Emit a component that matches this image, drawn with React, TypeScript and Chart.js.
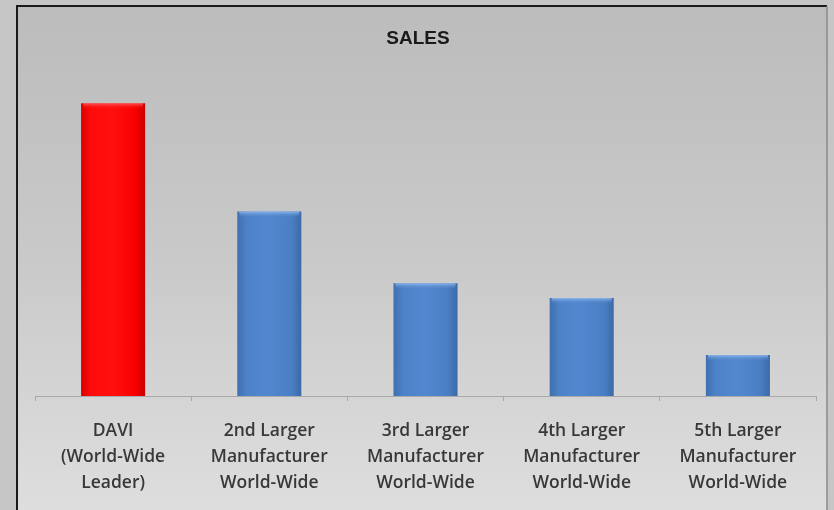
import React, { useEffect, useRef } from "react";
import { Chart, registerables } from "chart.js";

Chart.register(...registerables);

const categories: string[][] = [
  ["DAVI", "(World-Wide", "Leader)"],
  ["2nd Larger", "Manufacturer", "World-Wide"],
  ["3rd Larger", "Manufacturer", "World-Wide"],
  ["4th Larger", "Manufacturer", "World-Wide"],
  ["5th Larger", "Manufacturer", "World-Wide"],
];
const salesValues: number[] = [100, 63, 38.5, 33.5, 14];
const barColors: string[] = ["red", "blue", "blue", "blue", "blue"];
const chartTitle = "SALES";

const framePlugin = {
  id: "frame",
  beforeDraw(chart: any) {
    const { ctx, width, height } = chart;
    ctx.save();
    ctx.fillStyle = "#c6c6c6";
    ctx.fillRect(0, 0, width, height);
    const g = ctx.createLinearGradient(0, 6, 0, height);
    g.addColorStop(0, "#bcbcbc");
    g.addColorStop(0.5, "#c9c9c9");
    g.addColorStop(1, "#dedede");
    ctx.fillStyle = g;
    ctx.fillRect(17, 6, width - 17 - 7, height - 6);
    ctx.strokeStyle = "#1a1a1a";
    ctx.lineWidth = 2;
    ctx.beginPath();
    ctx.moveTo(17, height);
    ctx.lineTo(17, 6);
    ctx.lineTo(width - 7, 6);
    ctx.stroke();
    ctx.strokeStyle = "#8a8a8a";
    ctx.lineWidth = 1.5;
    ctx.beginPath();
    ctx.moveTo(width - 7, 6);
    ctx.lineTo(width - 7, height);
    ctx.stroke();
    ctx.restore();
  },
  afterDatasetsDraw(chart: any) {
    const { ctx } = chart;
    const meta = chart.getDatasetMeta(0);
    ctx.save();
    meta.data.forEach((bar: any, i: number) => {
      const w = bar.width;
      const left = bar.x - w / 2;
      const top = bar.y;
      const g = ctx.createLinearGradient(0, top, 0, top + 6);
      if (barColors[i] === "red") {
        g.addColorStop(0, "rgba(255,120,120,0.7)");
        g.addColorStop(1, "rgba(255,0,0,0)");
      } else {
        g.addColorStop(0, "rgba(150,190,240,0.85)");
        g.addColorStop(1, "rgba(80,130,200,0)");
      }
      ctx.fillStyle = g;
      ctx.fillRect(left + 2, top, w - 4, 6);
    });
    ctx.fillStyle = "#1a1a1a";
    ctx.font = "bold 19px 'Liberation Sans', Arial";
    ctx.textAlign = "center";
    ctx.textBaseline = "middle";
    ctx.fillText(chartTitle, 418, 39);
    ctx.restore();
  },
};

function barFill(c: any) {
  const chart = c.chart;
  const kind = barColors[c.dataIndex] || "blue";
  const base = kind === "red" ? "#f40000" : "#4a7ec4";
  if (!chart.chartArea || !chart.scales.x) return base;
  const xs = chart.scales.x;
  const cx = xs.getPixelForValue(c.dataIndex);
  const half = (xs.width / categories.length) * 0.41 / 2;
  const g = chart.ctx.createLinearGradient(cx - half, 0, cx + half, 0);
  if (kind === "red") {
    g.addColorStop(0, "#d80000");
    g.addColorStop(0.15, "#ff0a0a");
    g.addColorStop(0.5, "#ff1010");
    g.addColorStop(0.85, "#f80000");
    g.addColorStop(1, "#c80000");
  } else {
    g.addColorStop(0, "#3f6fae");
    g.addColorStop(0.15, "#4d82c8");
    g.addColorStop(0.5, "#5288cf");
    g.addColorStop(0.85, "#4a7ec4");
    g.addColorStop(1, "#3b69a6");
  }
  return g;
}

export default function App() {
  const ref = useRef<HTMLCanvasElement | null>(null);
  useEffect(() => {
    document.body.style.margin = "0";
    if (!ref.current) return;
    const chart = new Chart(ref.current, {
      type: "bar",
      data: {
        labels: categories,
        datasets: [
          {
            data: salesValues,
            backgroundColor: barFill,
            borderWidth: 0,
            categoryPercentage: 1,
            barPercentage: 0.41,
          },
        ],
      },
      plugins: [framePlugin],
      options: {
        animation: false,
        responsive: false,
        devicePixelRatio: 1,
        layout: { padding: { left: 35, right: 18, top: 74, bottom: 0 } },
        plugins: {
          legend: { display: false },
          tooltip: { enabled: false },
          title: { display: false },
        },
        scales: {
          x: {
            offset: true,
            afterFit: (s: any) => {
              s.height = 114;
            },
            border: { display: true, color: "#a8a8a8", width: 1 },
            grid: { display: true, drawOnChartArea: false, offset: true, color: "#a8a8a8", tickLength: 5 },
            ticks: {
              color: "#383838",
              padding: 17,
              maxRotation: 0,
              autoSkip: false,
              font: { family: "'Open Sans', 'Liberation Sans', Arial", size: 17.5, weight: "600", lineHeight: 1.49 },
            },
          },
          y: {
            display: false,
            min: 0,
            max: 110,
          },
        },
      },
    });
    return () => chart.destroy();
  }, []);
  return (
    <div style={{ width: 834, height: 510 }}>
      <canvas ref={ref} width={834} height={510} style={{ display: "block" }} />
    </div>
  );
}
